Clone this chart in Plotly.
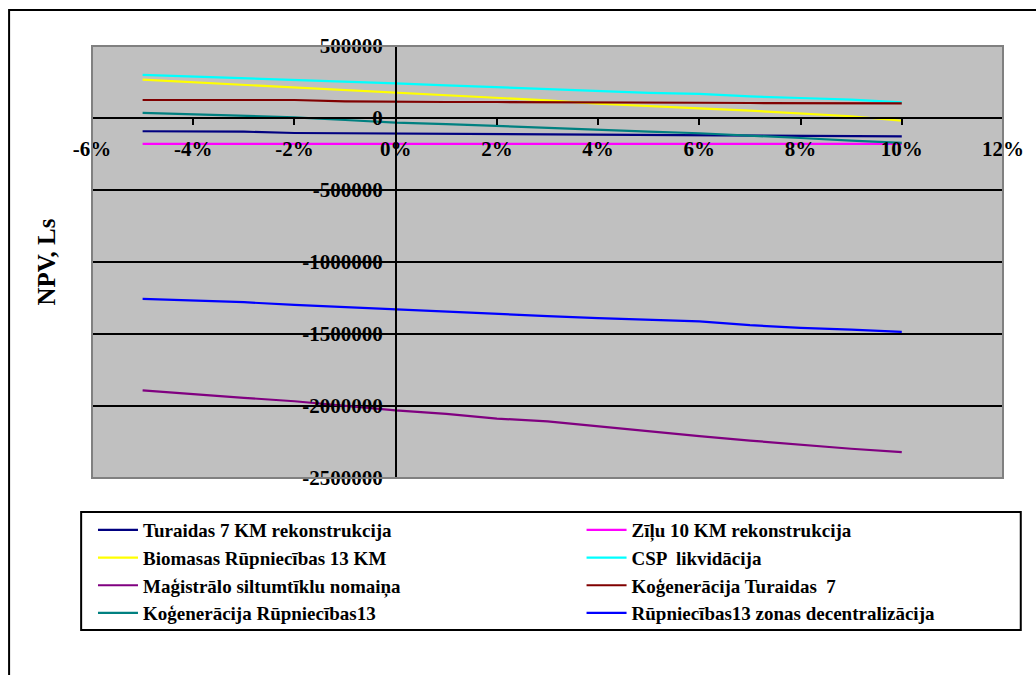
import plotly.graph_objects as go

# Discount-rate sensitivity of project NPV
pct = [-5, -4, -3, -2, -1, 0, 1, 2, 3, 4, 5, 6, 7, 8, 9, 10]

turaidas_km = [-92000, -92000, -95000, -104000, -106000, -106000, -109000, -113000,
               -116000, -118000, -118000, -120000, -122000, -124000, -126000, -127000]
zilu_km = [-180000, -180000, -180000, -180000, -180000, -180000, -180000, -180000,
           -180000, -180000, -180000, -180000, -180000, -180000, -180000, -180000]
biomasas_km = [266000, 248000, 231000, 213000, 194000, 174000, 160000, 143000,
               122000, 99000, 81000, 67000, 51000, 33000, 12000, -19000]
csp_likvidacija = [300000, 289000, 277000, 265000, 253000, 241000, 227000, 213000,
                   199000, 185000, 174000, 167000, 150000, 139000, 127000, 109000]
magistralo_nomaina = [-1892000, -1915000, -1943000, -1967000, -2000000, -2031000, -2054000, -2087000,
                      -2107000, -2142000, -2177000, -2209000, -2240000, -2270000, -2297000, -2320000]
kogen_turaidas = [125000, 125000, 125000, 125000, 116000, 111000, 111000, 111000,
                  111000, 111000, 111000, 106000, 104000, 102000, 102000, 102000]
kogen_rupniecibas = [35000, 25000, 16000, 5000, -14000, -32000, -42000, -56000,
                     -67000, -83000, -95000, -106000, -125000, -139000, -157000, -173000]
rupniecibas_decentr = [-1256000, -1268000, -1279000, -1298000, -1314000, -1330000, -1346000, -1365000,
                       -1376000, -1390000, -1402000, -1413000, -1439000, -1457000, -1469000, -1485000]

series_names = [
    "Turaidas 7 KM rekonstrukcija",
    "Zīļu 10 KM rekonstrukcija",
    "Biomasas Rūpniecības 13 KM",
    "CSP  likvidācija",
    "Maģistrālo siltumtīklu nomaiņa",
    "Koģenerācija Turaidas  7",
    "Koģenerācija Rūpniecības13",
    "Rūpniecības13 zonas decentralizācija",
]
series_values = [turaidas_km, zilu_km, biomasas_km, csp_likvidacija,
                 magistralo_nomaina, kogen_turaidas, kogen_rupniecibas, rupniecibas_decentr]
series_colors = ["#000080", "#FF00FF", "#FFFF00", "#00FFFF",
                 "#800080", "#800000", "#008080", "#0000FF"]

x_ticks = [-6, -4, -2, 0, 2, 4, 6, 8, 10, 12]
x_tick_labels = ["-6%", "-4%", "-2%", "0%", "2%", "4%", "6%", "8%", "10%", "12%"]
y_ticks = [500000, 0, -500000, -1000000, -1500000, -2000000, -2500000]
y_tick_labels = ["500000", "0", "-500000", "-1000000", "-1500000", "-2000000", "-2500000"]

X_RANGE = [-6, 12]
Y_RANGE = [-2500000, 500000]

W, H = 1036, 675
ML, MR, MT, MB = 92, 21, 46, 197
PW, PH = W - ML - MR, H - MT - MB

SERIF = "Liberation Serif"


def px_x(p):
    return (p - ML) / PW


def px_y(p):
    return (H - MB - p) / PH


fig = go.Figure()
for i, (name, vals, col) in enumerate(zip(series_names, series_values, series_colors)):
    fig.add_trace(go.Scatter(
        x=pct, y=vals, name=name, mode="lines",
        line=dict(color=col, width=2.2),
        legend="legend" if i % 2 == 0 else "legend2",
        legendgroup=f"g{i}",
    ))

tick_font = dict(family=SERIF, size=21, color="black", weight="bold")
legend_font = dict(family=SERIF, size=19, color="black", weight="bold")

fig.update_layout(
    width=W, height=H,
    margin=dict(l=ML, r=MR, t=MT, b=MB),
    paper_bgcolor="white",
    plot_bgcolor="#C0C0C0",
    showlegend=True,
    xaxis=dict(
        range=X_RANGE, anchor="free",
        position=(0 - Y_RANGE[0]) / (Y_RANGE[1] - Y_RANGE[0]),
        tickvals=x_ticks, ticktext=x_tick_labels,
        ticks="outside", ticklen=6, tickwidth=1.5, tickcolor="black",
        showline=True, linecolor="black", linewidth=1.5,
        showgrid=False, zeroline=False,
        tickfont=tick_font, ticklabelstandoff=6,
    ),
    yaxis=dict(
        range=Y_RANGE, anchor="free",
        position=(0 - X_RANGE[0]) / (X_RANGE[1] - X_RANGE[0]),
        tickvals=y_ticks, ticktext=y_tick_labels,
        ticks="outside", ticklen=6, tickwidth=1.5, tickcolor="black",
        showline=True, linecolor="black", linewidth=1.5,
        showgrid=True, gridcolor="black", gridwidth=1.5, zeroline=False,
        tickfont=tick_font, ticklabelstandoff=2,
    ),
    legend=dict(
        x=px_x(93), y=px_y(511), xanchor="left", yanchor="top",
        orientation="v", font=legend_font, borderwidth=0, bgcolor="rgba(0,0,0,0)",
        itemwidth=40, tracegroupgap=0,
    ),
    legend2=dict(
        x=px_x(588), y=px_y(511), xanchor="left", yanchor="top",
        orientation="v", font=legend_font, borderwidth=0, bgcolor="rgba(0,0,0,0)",
        itemwidth=40, tracegroupgap=0,
    ),
    shapes=[
        # plot area border
        dict(type="rect", xref="paper", yref="paper", x0=0, y0=0, x1=1, y1=1,
             line=dict(color="#808080", width=2), layer="above"),
        # chart frame
        dict(type="rect", xref="paper", yref="paper",
             x0=px_x(8), y0=px_y(H + 20), x1=px_x(W + 20), y1=px_y(10),
             line=dict(color="black", width=2)),
        # legend box
        dict(type="rect", xref="paper", yref="paper",
             x0=px_x(81), y0=px_y(630), x1=px_x(1033), y1=px_y(512),
             line=dict(color="black", width=2)),
    ],
    annotations=[
        dict(text="NPV, Ls", xref="paper", yref="paper", x=px_x(45), y=0.5,
             showarrow=False, textangle=-90, xanchor="center", yanchor="middle",
             font=dict(family=SERIF, size=25, color="black", weight="bold")),
    ],
)

fig.write_html("out.html")
